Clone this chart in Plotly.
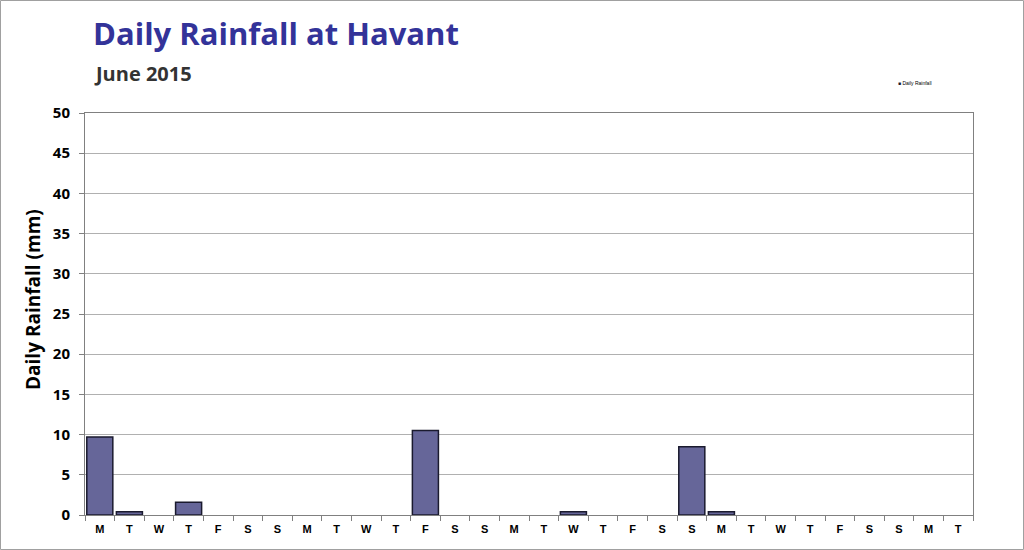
import plotly.graph_objects as go

days = list(range(1, 31))
day_labels = ["M", "T", "W", "T", "F", "S", "S", "M", "T", "W", "T", "F", "S", "S", "M",
              "T", "W", "T", "F", "S", "S", "M", "T", "W", "T", "F", "S", "S", "M", "T"]
rainfall = [9.7, 0.4, 0, 1.6, 0, 0, 0, 0, 0, 0, 0, 10.5, 0, 0, 0,
            0, 0.4, 0, 0, 0, 8.5, 0.4, 0, 0, 0, 0, 0, 0, 0, 0]
y_ticks = list(range(0, 51, 5))

L, R, T, B = 85, 51, 113, 35
W, H = 1024, 550
pw = W - L - R
ph = H - T - B

fig = go.Figure()
fig.add_trace(go.Bar(
    x=days, y=rainfall, name="Daily Rainfall",
    marker=dict(color="#666699",
                line=dict(color="#1a1a2e", width=[1.5 if v > 0 else 0 for v in rainfall])),
    width=0.88, showlegend=False,
))

fig.update_layout(
    width=W, height=H,
    margin=dict(l=L, r=R, t=T, b=B),
    paper_bgcolor="white", plot_bgcolor="white",
    title=dict(text="<b>Daily Rainfall at Havant</b>", x=93 / W, xanchor="left",
               y=1 - 34 / H, yanchor="middle",
               font=dict(family="Open Sans", size=31, color="#333399")),
    showlegend=False,
)

fig.add_annotation(text="<b>June 2015</b>", xref="paper", yref="paper",
                   x=(92 - L) / pw, y=1 + (T - 73) / ph, xanchor="left", yanchor="middle",
                   showarrow=False, font=dict(family="Open Sans", size=20, color="#333333"))

# tiny legend
fig.add_annotation(text="<span style='color:#1a1a2e'>■</span> Daily Rainfall", xref="paper", yref="paper",
                   x=(896 - L) / pw, y=1 + (T - 83) / ph, xanchor="left", yanchor="middle",
                   showarrow=False, font=dict(family="Arial", size=5, color="#000"))

# y axis title
fig.add_annotation(text="<b>Daily Rainfall (mm)</b>", xref="paper", yref="paper",
                   x=(33 - L) / pw, y=(H - B - 300) / ph, xanchor="center", yanchor="middle",
                   textangle=-90, showarrow=False,
                   font=dict(family="Open Sans", size=19, color="#000"))

fig.update_xaxes(
    range=[0.5, 30.5], tickmode="array", tickvals=days, ticktext=day_labels,
    ticks="", showgrid=False, zeroline=False,
    showline=True, linecolor="#808080", linewidth=1, mirror=True,
    tickfont=dict(family="Arial", size=11, color="#000", weight="bold"),
    ticklabelstandoff=4,
    minor=dict(ticks="outside", tick0=0.5, dtick=1, ticklen=5, tickcolor="#808080", showgrid=False),
)
fig.update_yaxes(
    range=[0, 50], tickmode="array", tickvals=y_ticks,
    ticks="outside", ticklen=5, tickcolor="#808080",
    showgrid=True, gridcolor="#b0b0b0", gridwidth=1, zeroline=False,
    showline=True, linecolor="#808080", linewidth=1, mirror=True,
    tickfont=dict(family="Open Sans", size=15, color="#000", weight="bold"),
    ticklabelstandoff=6,
)

# outer frame of the chart
fig.add_shape(type="rect", xref="paper", yref="paper",
              x0=(0.5 - L) / pw, x1=(W - 0.5 - L) / pw,
              y0=-(B - 0.5) / ph, y1=1 + (T - 0.5) / ph,
              line=dict(color="#a0a0a0", width=1), layer="below")

fig.write_html("out.html")
